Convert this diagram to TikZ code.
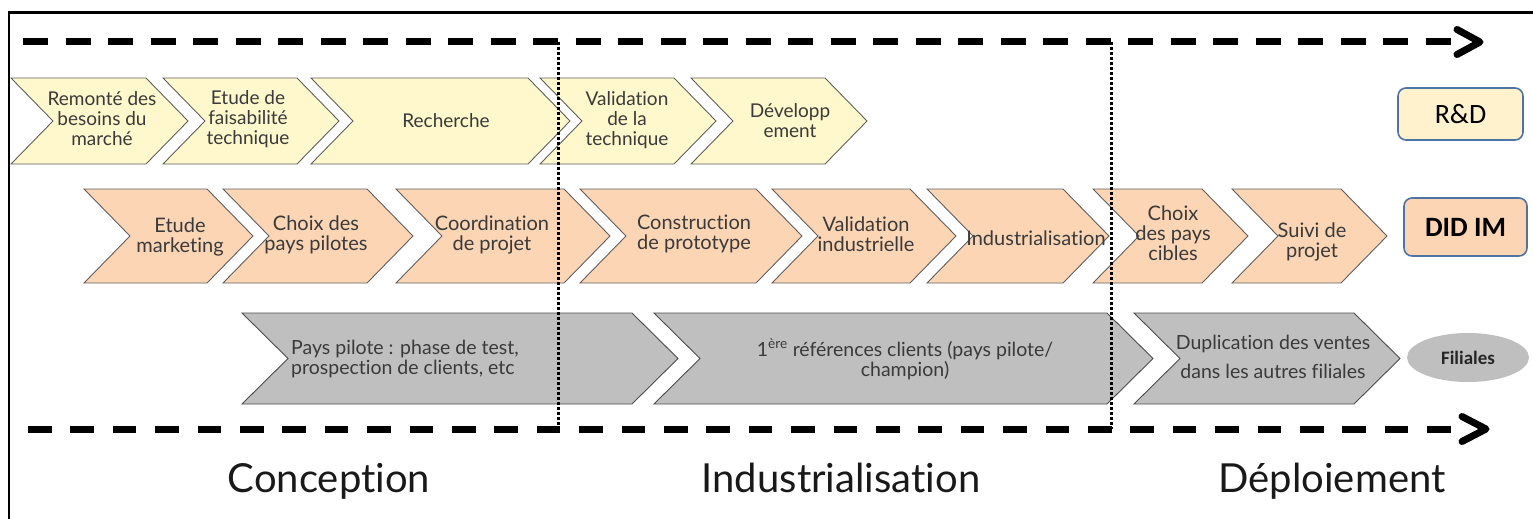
\documentclass[tikz,border=0pt]{standalone}
\usepackage{fontspec}
\usetikzlibrary{shapes.geometric}
\setmainfont{Lato}[Ligatures=NoCommon]
\newfontfamily\calib{Carlito}
\definecolor{rdfill}{HTML}{FEF8CC}
\definecolor{rdbox}{HTML}{FFF2CC}
\definecolor{didfill}{HTML}{FCD5B5}
\definecolor{grayfill}{HTML}{BFBFBF}
\definecolor{boxline}{HTML}{4E73A5}
\definecolor{chline}{HTML}{5F5F5F}
\definecolor{txt}{HTML}{3A3A3A}
\newcommand\mychev[6]{% style, left, tip, top, bottom, depth
  \draw[#1] (#2,#4) -- ({#3-#6},#4) -- (#3,{(#4+#5)/2}) -- ({#3-#6},#5) -- (#2,#5) -- ({#2+#6},{(#4+#5)/2}) -- cycle;}
\tikzset{
  rdchev/.style={fill=rdfill,draw=chline,line width=0.9pt,line join=miter},
  didchev/.style={fill=didfill,draw=chline,line width=0.9pt,line join=miter},
  graychev/.style={fill=grayfill,draw=chline!80!black,line width=0.9pt,line join=miter},
  rdtxt/.style={inner sep=0pt,align=center,text=txt,font=\fontsize{19}{20}\selectfont},
  didtxt/.style={inner sep=0pt,align=center,text=txt,font=\fontsize{20}{20}\selectfont},
  graytxt/.style={inner sep=0pt,align=center,text=txt,font=\fontsize{19.5}{20}\selectfont},
  phase/.style={inner sep=0pt,anchor=base,text=black!90,font=\fontsize{40}{44}\selectfont},
  rolebox/.style={draw=boxline,line width=1.6pt,rounded corners=8pt},
  dashline/.style={line width=7pt,line cap=butt},
  arrhead/.style={line width=7pt,line cap=round,line join=round},
  dotline/.style={line width=3pt,dash pattern=on 2.6pt off 2.4pt},
}
\begin{document}
\begin{tikzpicture}[x=1pt,y=-1pt]
\useasboundingbox (0,0) rectangle (1533,519);
% frame
\draw[line width=2.6pt] (9,530) -- (9,12.5) -- (1540,12.5);

% R&D row
\mychev{rdchev}{11}{188}{78}{164}{42}
\mychev{rdchev}{163}{339}{78}{164}{42}
\mychev{rdchev}{311}{570}{78}{164}{42}
\mychev{rdchev}{540}{716}{78}{164}{42}
\mychev{rdchev}{691}{867}{78}{164}{42}
\node[rdtxt] (r1) at (102,119) {Remonté des\\besoins du\\marché};
\node[rdtxt] (r2) at (248,119) {Etude de\\faisabilité\\technique};
\node[rdtxt] (r3) at (446,121) {Recherche};
\node[rdtxt] (r4) at (627,120) {Validation\\de la\\technique};
\node[rdtxt] (r5) at (790,121) {Développ\\ement};
\draw[rolebox,fill=rdbox] (1398,88) rectangle (1523,140);
\node[inner sep=0pt,font=\calib\fontsize{28}{30}\selectfont] (rd) at (1460.5,114) {R\&D};

% DID IM row
\mychev{didchev}{84}{253}{189}{283}{46}
\mychev{didchev}{223}{413}{189}{283}{46}
\mychev{didchev}{396}{610}{189}{283}{46}
\mychev{didchev}{580}{802}{189}{283}{46}
\mychev{didchev}{772}{956}{189}{283}{46}
\mychev{didchev}{927}{1109}{189}{283}{46}
\mychev{didchev}{1093}{1248}{189}{283}{46}
\mychev{didchev}{1232}{1387}{189}{283}{46}
\node[didtxt] (d1) at (180,237) {Etude\\marketing};
\node[didtxt] (d2) at (316,235) {Choix des\\pays pilotes};
\node[didtxt] (d3) at (492,235) {Coordination\\de projet};
\node[didtxt] (d4) at (694,234) {Construction\\de prototype};
\node[didtxt] (d5) at (866,234) {Validation\\industrielle};
\node[didtxt] (d6) at (1036,238) {Industrialisation};
\node[didtxt] (d7) at (1173,233) {Choix\\des pays\\cibles};
\node[didtxt] (d8) at (1312,242) {Suivi de\\projet};
\draw[rolebox,fill=didfill] (1404,198) rectangle (1527,256);
\node[inner sep=0pt,font=\calib\bfseries\fontsize{28}{30}\selectfont] (did) at (1465.5,227) {DID IM};

% Filiales row
\mychev{graychev}{242}{678}{313}{404}{46}
\mychev{graychev}{654}{1153}{313}{404}{46}
\mychev{graychev}{1134}{1400}{313}{404}{46}
\node[graytxt,align=left,anchor=west] (g1) at (291,359) {Pays pilote : phase de test,\\prospection de clients, etc};
\node[graytxt] (g2) at (905,359) {1\textsuperscript{ère} références clients (pays pilote/\\champion)};
\node[graytxt,font=\fontsize{19.5}{29}\selectfont] (g3) at (1273,357) {Duplication des ventes\\dans les autres filiales};
\node[ellipse,fill=grayfill,minimum width=122pt,minimum height=49pt,inner sep=0pt,
      font=\calib\bfseries\fontsize{19}{20}\selectfont,text=black!85] (fil) at (1468,357.5) {Filiales};

% dotted separators
\coordinate (s1a) at (558,42);  \coordinate (s1b) at (558,429);
\coordinate (s2a) at (1111,42); \coordinate (s2b) at (1111,429);
\draw[dotline] (s1a) -- (s1b);
\draw[dotline] (s2a) -- (s2b);

% dashed timelines
\coordinate (ta) at (23,42);  \coordinate (tb) at (1450.5,42);
\coordinate (ba) at (28,429); \coordinate (bb) at (1451,429);
\draw[dashline,dash pattern=on 25pt off 17.5pt] (ta) -- (tb);
\draw[arrhead] (1457,29.5) -- (1480,42) -- (1457,54.5);
\draw[dashline,dash pattern=on 23.5pt off 18.9pt] (ba) -- (bb);
\draw[arrhead] (1462,416.5) -- (1486,429) -- (1462,441.5);

% phase labels
\node[phase] (p1) at (329,492) {Conception};
\node[phase] (p2) at (841,492) {Industrialisation};
\node[phase] (p3) at (1332,492) {Déploiement};
\end{tikzpicture}
\end{document}
